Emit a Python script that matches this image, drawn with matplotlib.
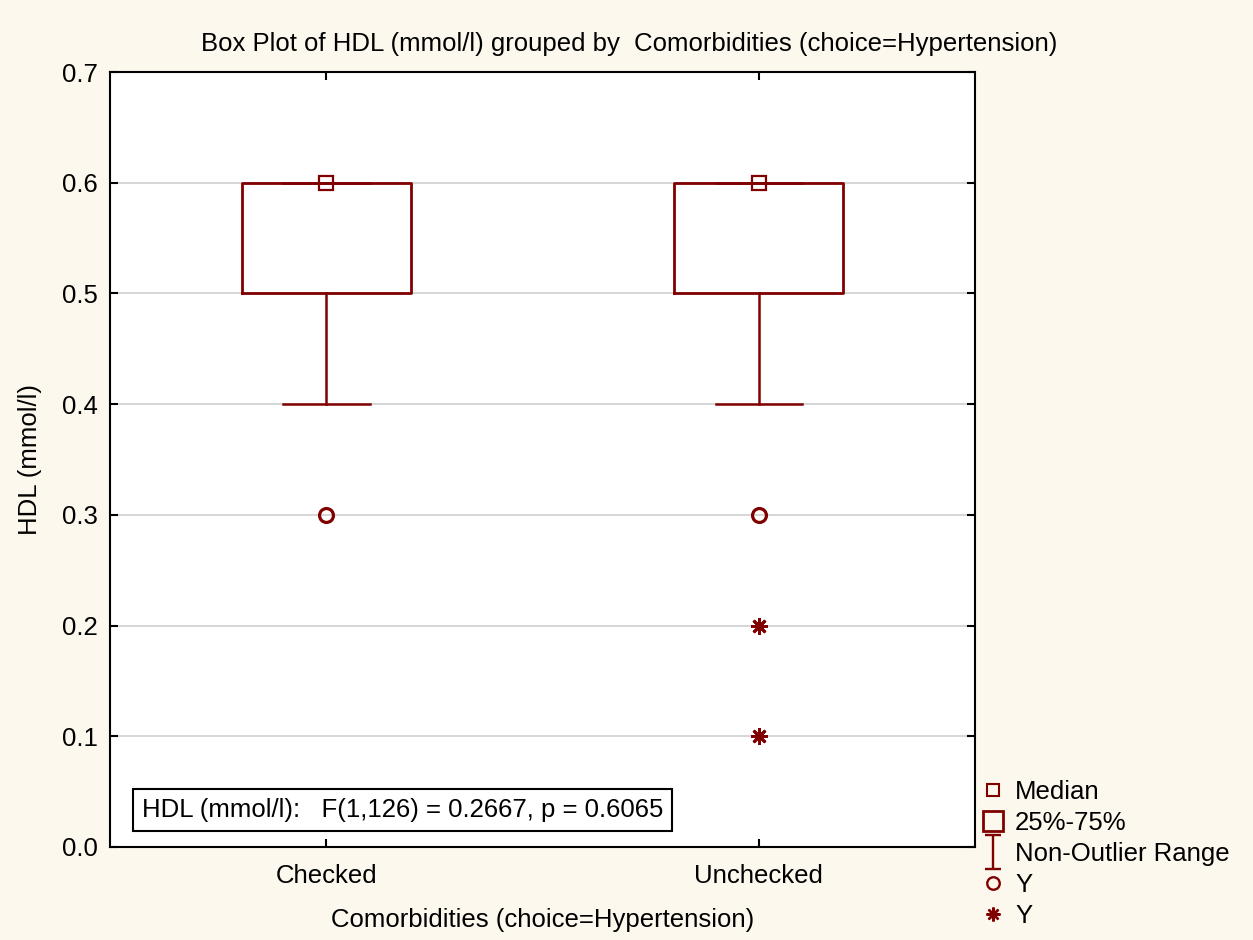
import matplotlib
matplotlib.use("Agg")
import matplotlib.pyplot as plt
from matplotlib.lines import Line2D
from matplotlib.path import Path
import numpy as np

plt.rcParams['font.family'] = ['Liberation Sans', 'DejaVu Sans']

# summary stats per group
groups = ["Checked", "Unchecked"]
medians = [0.6, 0.6]
q1 = [0.5, 0.5]
q3 = [0.6, 0.6]
whis_lo = [0.4, 0.4]
whis_hi = [0.6, 0.6]
outliers = [[0.3], [0.3]]
extremes = [[], [0.2, 0.1]]

red = "#800000"
bg = "#fdf8ee"
fs = 18.5

fig = plt.figure(figsize=(12.53, 9.4), dpi=100, facecolor=bg)
ax = fig.add_axes([110/1253, 93/940, 865/1253, 775/940])

stats = []
for i, g in enumerate(groups):
    stats.append(dict(label=g, med=medians[i], q1=q1[i], q3=q3[i],
                      whislo=whis_lo[i], whishi=whis_hi[i], fliers=[]))

pos = np.arange(1, len(groups) + 1)
ax.bxp(stats, positions=pos, widths=0.39, showfliers=False,
       boxprops=dict(color=red, lw=2),
       whiskerprops=dict(color=red, lw=1.8),
       capprops=dict(color=red, lw=1.8),
       medianprops=dict(color=red, lw=1.8, alpha=0),
       capwidths=0.2, zorder=3)

ax.plot(pos, medians, ls='none', marker='s', ms=10, mfc='none',
        mec=red, mew=1.6, zorder=4)
for p, vals in zip(pos, outliers):
    ax.plot([p] * len(vals), vals, ls='none', marker='o', ms=10,
            mfc='none', mec=red, mew=2.3, zorder=4)
for p, vals in zip(pos, extremes):
    ax.plot([p] * len(vals), vals, ls='none', marker=(8, 2, 0), ms=12,
            color=red, mew=2, zorder=4)

ax.set_xlim(0.5, 2.5)
ax.set_ylim(0, 0.7)
ax.set_yticks(np.arange(0, 0.71, 0.1))
ax.set_yticklabels(["%.1f" % v for v in np.arange(0, 0.71, 0.1)])
ax.set_xticks(pos)
ax.set_xticklabels(groups)
ax.tick_params(direction='in', length=6, top=True, right=True,
               labelsize=fs, width=1.5)
ax.tick_params(axis='y', pad=9)
ax.tick_params(axis='x', pad=12)
ax.yaxis.grid(True, color="#d3d3d3", lw=1.3, zorder=0)
ax.set_axisbelow(True)
for s in ax.spines.values():
    s.set_linewidth(1.5)

ax.set_title("Box Plot of HDL (mmol/l) grouped by  Comorbidities (choice=Hypertension)",
             fontsize=fs, pad=15, x=0.6)
ax.set_xlabel("Comorbidities (choice=Hypertension)", fontsize=fs, labelpad=15)
ax.set_ylabel("HDL (mmol/l)", fontsize=fs, labelpad=14)

ax.text(0.037, 0.048, "HDL (mmol/l):   F(1,126) = 0.2667, p = 0.6065",
        transform=ax.transAxes, fontsize=fs, va='center', ha='left',
        bbox=dict(boxstyle='square,pad=0.35', fc='white', ec='black', lw=1.5))

ibeam = Path([(-0.5, 1), (0.5, 1), (0, 1), (0, -1), (-0.5, -1), (0.5, -1)],
             [Path.MOVETO, Path.LINETO, Path.MOVETO, Path.LINETO,
              Path.MOVETO, Path.LINETO])
handles = [
    Line2D([], [], ls='none', marker='s', ms=8, mfc='none', mec=red, mew=1.5),
    Line2D([], [], ls='none', marker='s', ms=15, mfc='none', mec=red, mew=2),
    Line2D([], [], ls='none', marker=ibeam, ms=24, mfc='none', mec=red, mew=1.7),
    Line2D([], [], ls='none', marker='o', ms=9, mfc='none', mec=red, mew=1.7),
    Line2D([], [], ls='none', marker=(8, 2, 0), ms=10, color=red, mew=1.7),
]
labels = ["Median", "25%-75%", "Non-Outlier Range", "Y", "Y"]
fig.legend(handles, labels, loc='upper left', bbox_to_anchor=(983/1253, 1 - 780/940),
           frameon=False, fontsize=fs, handlelength=0.8, handletextpad=0.45,
           labelspacing=0.27, borderpad=0, borderaxespad=0)

fig.savefig("out.png", dpi=100, facecolor=bg)
